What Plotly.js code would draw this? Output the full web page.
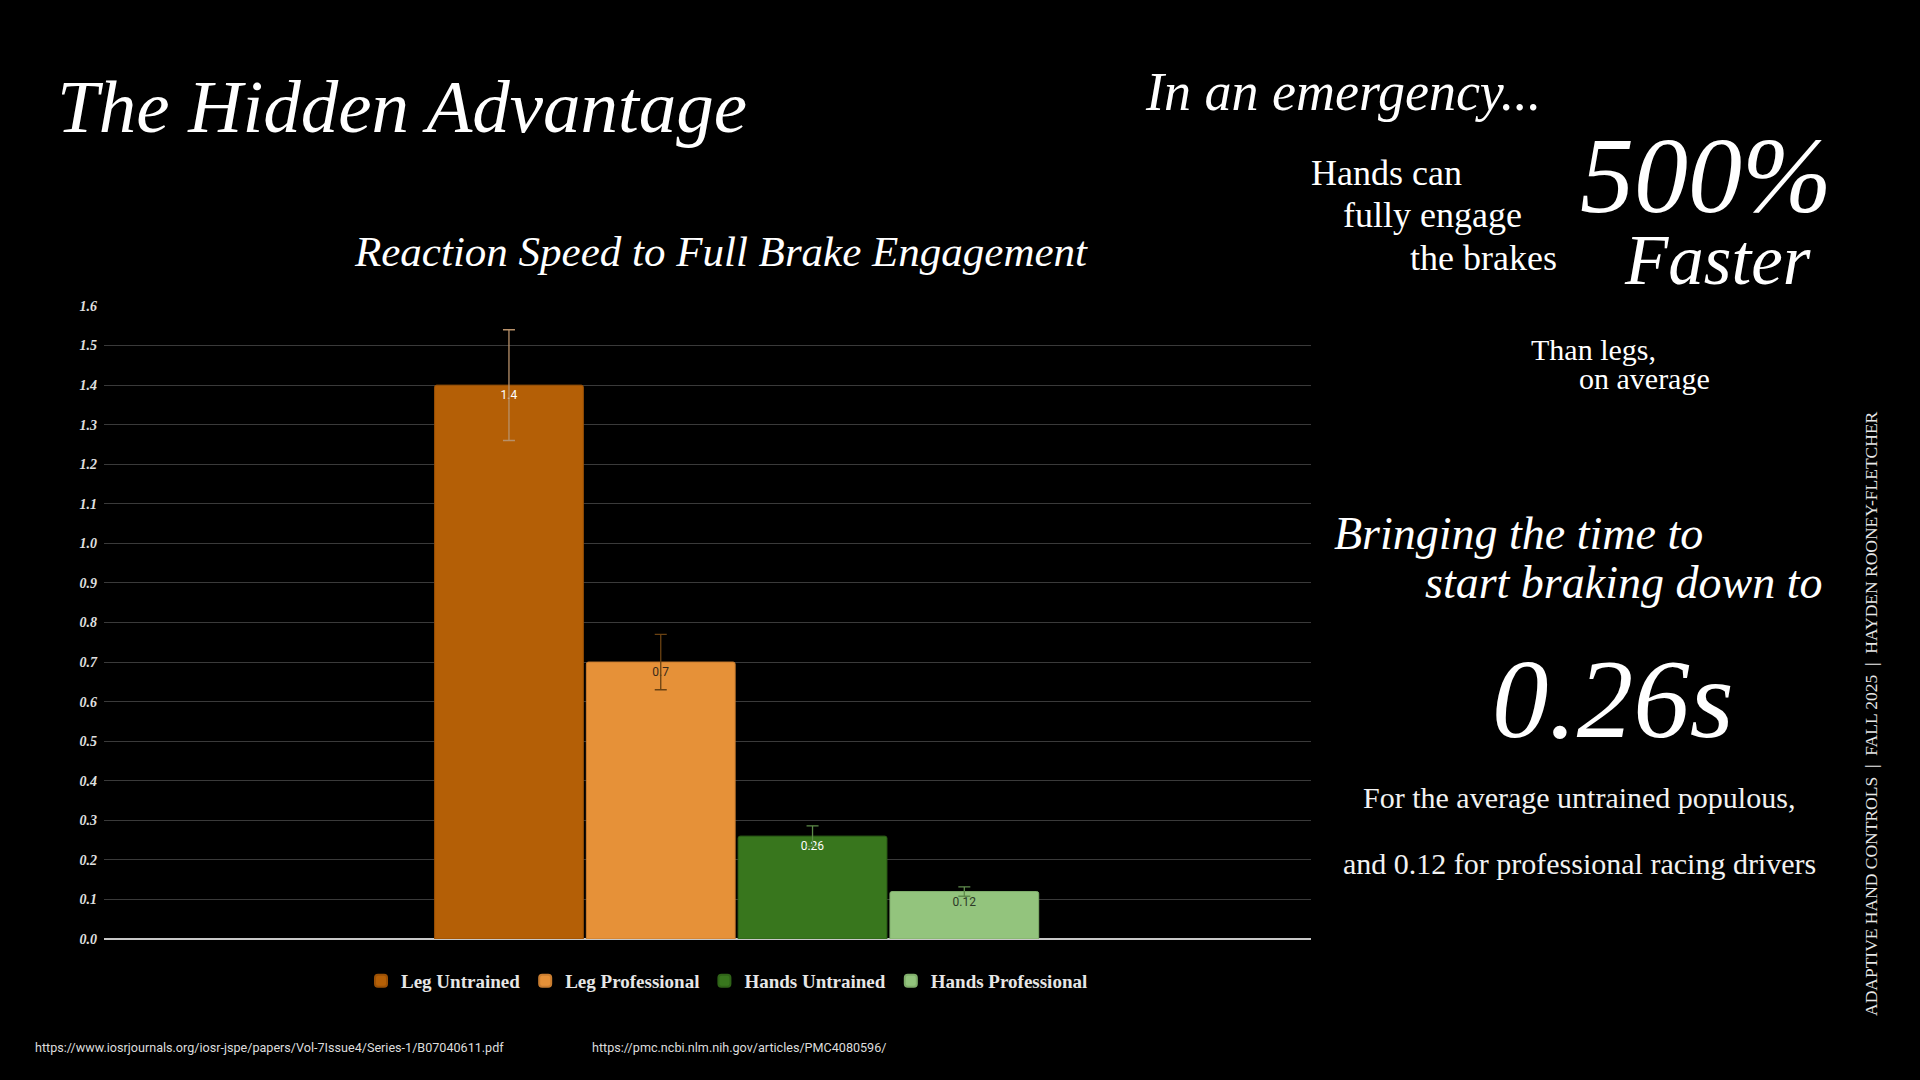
<!DOCTYPE html>
<html>
<head>
<meta charset="utf-8">
<script src="https://cdn.plot.ly/plotly-3.0.1.min.js"></script>
<style>
  html, body { margin: 0; padding: 0; background: #000; }
  #chart { width: 1920px; height: 1080px; }
</style>
</head>
<body>
<div id="chart"></div>
<script>
// ---- data ----
const seriesNames = ["Leg Untrained", "Leg Professional", "Hands Untrained", "Hands Professional"];
const seriesValues = [1.4, 0.7, 0.26, 0.12];
const seriesErrors = [0.14, 0.07, 0.026, 0.012];
const valueLabels = ["1.4", "0.7", "0.26", "0.12"];
const category = [""];
const tickValues = [0, 0.1, 0.2, 0.3, 0.4, 0.5, 0.6, 0.7, 0.8, 0.9, 1.0, 1.1, 1.2, 1.3, 1.4, 1.5, 1.6];
const tickLabels = ["0.0", "0.1", "0.2", "0.3", "0.4", "0.5", "0.6", "0.7", "0.8", "0.9", "1.0", "1.1", "1.2", "1.3", "1.4", "1.5", "1.6"];

// ---- styles ----
const barColors = ["#b45f06", "#e69138", "#38761d", "#93c47d"];
const barLineColors = ["#9a5005", "#c97d30", "#2f6318", "#80ae6b"];
const errColors = ["#b8916a", "#6a4212", "#5d8a48", "#5f8a4c"];
const labelColors = ["#ffffff", "#3a2a1a", "#ffffff", "#2e3a28"];

const W = 1920, H = 1080;
const L = 104, R = 1311, T = 306, B = 939;
const PW = R - L, PH = B - T;
const px = x => (x - L) / PW;
const py = y => (B - y) / PH;

const serif = "Liberation Serif, DejaVu Serif, serif";

const traces = seriesNames.map((name, i) => ({
  type: "bar",
  name: name,
  x: category,
  y: [seriesValues[i]],
  text: [valueLabels[i]],
  texttemplate: "%{text}",
  textposition: "inside",
  insidetextanchor: "end",
  textangle: 0,
  textfont: { family: "Liberation Sans Narrow, Roboto, sans-serif", size: 12, color: labelColors[i] },
  marker: { color: barColors[i], line: { color: barLineColors[i], width: 1 }, cornerradius: 2 },
  error_y: { type: "data", array: [seriesErrors[i]], visible: true, color: errColors[i], thickness: 1.3, width: 6 },
  hoverinfo: "skip"
}));

function ann(text, x, y, size, opts) {
  return Object.assign({
    text: text, xref: "paper", yref: "paper", x: px(x), y: py(y),
    xanchor: "left", yanchor: "middle", showarrow: false,
    font: { family: serif, size: size, color: "#ffffff" }
  }, opts || {});
}
function italic(size) { return { family: serif, size: size, color: "#ffffff", style: "italic" }; }

// three staggered lines as one text block (tight line spacing via a smaller base size)
const big = s => "<span style='font-size:36px'>" + s + "</span>";
const pad = (n, fs) => "<span style='font-size:" + fs + "px'>" + "&nbsp;".repeat(n) + "</span>";
const handsText = big("Hands can") + "<br>" + pad(4, 32) + big("fully engage") + "<br>" + pad(12, 33) + big("the brakes");

const annotations = [
  ann("The Hidden Advantage", 55, 106, 75, { font: italic(75) }),
  ann("In an emergency...", 1143, 92, 54, { font: italic(54) }),
  ann(handsText, 1310, 152, 32.5, { yanchor: "top", align: "left", borderpad: 0 }),
  ann("500%", 1578, 176, 108, { font: italic(108) }),
  ann("Faster", 1622, 260, 71, { font: italic(71) }),
  ann("Than legs,", 1529, 349, 30),
  ann("on average", 1577, 378, 30),
  ann("Bringing the time to", 1332, 533, 46, { font: italic(46) }),
  ann("start braking down to", 1423, 582, 46, { font: italic(46) }),
  ann("0.26s", 1490, 698, 113, { font: italic(113) }),
  ann("For the average untrained populous,", 1579, 797, 30, { xanchor: "center", font: { family: serif, size: 30, color: "#f2f2f2" } }),
  ann("and 0.12 for professional racing drivers", 1579, 863, 30, { xanchor: "center", font: { family: serif, size: 30, color: "#f2f2f2" } }),
  ann("ADAPTIVE HAND CONTROLS  |  FALL 2025  |  HAYDEN ROONEY-FLETCHER", 1871, 714, 17.5,
      { xanchor: "center", textangle: -90, font: { family: serif, size: 17.5, color: "#e8e8e8" } }),
  ann("https://www.iosrjournals.org/iosr-jspe/papers/Vol-7Issue4/Series-1/B07040611.pdf", 33, 1047, 12.6,
      { font: { family: "Roboto, Liberation Sans, sans-serif", size: 12.6, color: "#dddddd" } }),
  ann("https://pmc.ncbi.nlm.nih.gov/articles/PMC4080596/", 590, 1047, 12.6,
      { font: { family: "Roboto, Liberation Sans, sans-serif", size: 12.6, color: "#dddddd" } })
];

const layout = {
  width: W, height: H,
  paper_bgcolor: "#000000", plot_bgcolor: "#000000",
  margin: { l: L, r: W - R, t: T, b: H - B, pad: 0 },
  title: {
    text: "Reaction Speed to Full Brake Engagement",
    x: 721 / W, xanchor: "center", xref: "container",
    y: 1 - 251 / H, yanchor: "middle", yref: "container",
    font: { family: serif, size: 43, color: "#ffffff", style: "italic" }
  },
  barmode: "group",
  bargap: 0.5,
  bargroupgap: 0.02,
  showlegend: true,
  legend: {
    orientation: "h", x: px(727), xanchor: "center", y: py(981), yanchor: "middle",
    font: { family: serif, size: 19, color: "#e6e6e6", weight: "bold" },
    itemwidth: 30, itemsizing: "constant", traceorder: "normal", bgcolor: "rgba(0,0,0,0)"
  },
  xaxis: {
    type: "category", range: [-0.521, 0.473], showticklabels: false, showgrid: false,
    zeroline: false, showline: false, ticks: "", fixedrange: true
  },
  yaxis: {
    range: [0, 1.6], tickvals: tickValues, ticktext: tickLabels,
    tickfont: { family: serif, size: 14, color: "#e0e0e0", style: "italic", weight: "bold" },
    showgrid: true, gridcolor: "#3a3a3a", gridwidth: 1,
    zeroline: true, zerolinecolor: "#c8c8c8", zerolinewidth: 1.5,
    showline: false, ticks: "", ticklen: 0, ticklabelstandoff: 6, fixedrange: true
  },
  annotations: annotations,
  font: { family: serif, color: "#ffffff" }
};

Plotly.newPlot("chart", traces, layout, { displayModeBar: false, staticPlot: true });
</script>
</body>
</html>
